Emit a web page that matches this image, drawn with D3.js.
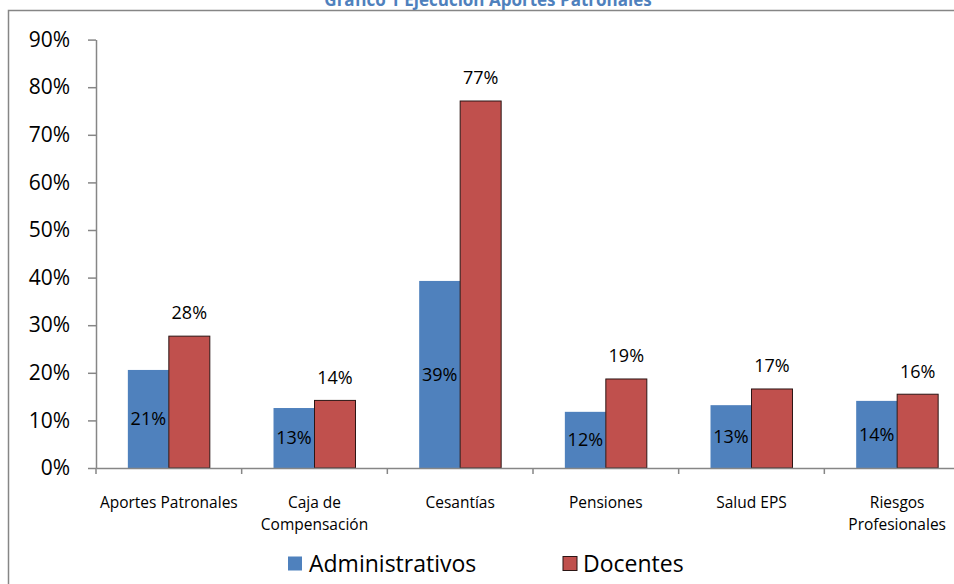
<!DOCTYPE html>
<html>
<head>
<meta charset="utf-8">
<script src="https://cdn.jsdelivr.net/npm/d3@7"></script>
<style>
  html, body { margin: 0; padding: 0; background: #fff; }
  svg { display: block; font-family: "Open Sans", sans-serif; }
</style>
</head>
<body>
<svg id="chart" width="954" height="584"></svg>
<script>
const title = "Gráfico 1 Ejecución Aportes Patronales";
const categories = ["Aportes Patronales", "Caja de Compensación", "Cesantías", "Pensiones", "Salud EPS", "Riesgos Profesionales"];
const seriesNames = ["Administrativos", "Docentes"];
const administrativos = [0.206, 0.126, 0.393, 0.118, 0.132, 0.141];
const docentes = [0.277, 0.142, 0.771, 0.187, 0.166, 0.155];
const yTicks = [0, 0.1, 0.2, 0.3, 0.4, 0.5, 0.6, 0.7, 0.8, 0.9];
const colors = ["#4F81BD", "#C0504D"];

const svg = d3.select("#chart");
const axisColor = "#868686";

// frame
svg.append("rect")
  .attr("x", 8.5).attr("y", 10.5)
  .attr("width", 1000).attr("height", 1000)
  .attr("fill", "none").attr("stroke", axisColor).attr("stroke-width", 1.5);

// title
svg.append("text")
  .attr("x", 488).attr("y", 6)
  .attr("text-anchor", "middle")
  .attr("fill", "#4F81BD")
  .attr("font-weight", "bold")
  .attr("font-size", 17)
  .text(title);

const x0 = d3.scaleBand().domain(categories).range([96, 970]).paddingInner(0).paddingOuter(0);
const x1 = d3.scaleBand().domain(seriesNames).range([0, x0.bandwidth()]).paddingInner(0).paddingOuter(0.777);
const y = d3.scaleLinear().domain([0, 0.9]).range([468, 39.6]);

const values = [administrativos, docentes];

// y axis
const yAxis = d3.axisLeft(y).tickValues(yTicks).tickFormat(d3.format(".0%"))
  .tickSize(8).tickSizeOuter(0).tickPadding(18);
const gy = svg.append("g").attr("transform", "translate(96,0)").call(yAxis);
gy.select(".domain").attr("stroke", axisColor).attr("stroke-width", 1.5);
gy.selectAll(".tick line").attr("stroke", axisColor).attr("stroke-width", 1.5);
gy.selectAll(".tick text").attr("font-size", 21).attr("fill", "#000").attr("font-family", "Open Sans, sans-serif");

// bars
const groups = svg.append("g").selectAll("g").data(categories).join("g")
  .attr("transform", d => `translate(${x0(d)},0)`);

seriesNames.forEach((s, si) => {
  groups.append("rect")
    .attr("x", x1(s))
    .attr("y", (d, i) => y(values[si][i]))
    .attr("width", x1.bandwidth())
    .attr("height", (d, i) => y(0) - y(values[si][i]))
    .attr("fill", colors[si])
    .attr("stroke", si === 1 ? "#2b1514" : "none")
    .attr("stroke-width", si === 1 ? 1 : 0);
});

// data labels
groups.append("text")
  .attr("x", x1("Administrativos") + x1.bandwidth() / 2)
  .attr("y", (d, i) => (y(administrativos[i]) + y(0)) / 2)
  .attr("dy", "0.35em")
  .attr("text-anchor", "middle")
  .attr("font-size", 18)
  .attr("fill", "#000")
  .text((d, i) => d3.format(".0%")(administrativos[i]));

groups.append("text")
  .attr("x", x1("Docentes") + x1.bandwidth() / 2)
  .attr("y", (d, i) => y(docentes[i]) - 23)
  .attr("dy", "0.35em")
  .attr("text-anchor", "middle")
  .attr("font-size", 18)
  .attr("fill", "#000")
  .text((d, i) => d3.format(".0%")(docentes[i]));

// x axis line
const xAxis = d3.axisBottom(x0).tickSize(0).tickFormat("");
const gx = svg.append("g").attr("transform", "translate(0,468)").call(xAxis);
gx.select(".domain").attr("stroke", axisColor).attr("stroke-width", 1.5);
// boundary ticks
const bounds = categories.map(c => x0(c)).concat([x0.range()[1]]);
gx.selectAll("line.bound").data(bounds).join("line")
  .attr("class", "bound")
  .attr("x1", d => d).attr("x2", d => d)
  .attr("y1", 0).attr("y2", 6)
  .attr("stroke", axisColor).attr("stroke-width", 1.5);

// category labels with wrapping
const catLabels = svg.append("g").selectAll("text").data(categories).join("text")
  .attr("x", d => x0(d) + x0.bandwidth() / 2)
  .attr("y", 503)
  .attr("text-anchor", "middle")
  .attr("font-size", 15.5)
  .attr("fill", "#000");
catLabels.each(function(d) {
  const t = d3.select(this);
  const words = d.split(" ");
  let lines = [];
  let line = [];
  words.forEach(w => {
    const test = line.concat([w]).join(" ");
    t.text(test);
    if (line.length && t.node().getComputedTextLength() > 145) {
      lines.push(line.join(" "));
      line = [w];
    } else {
      line.push(w);
    }
  });
  lines.push(line.join(" "));
  t.text(null);
  lines.forEach((l, i) => {
    t.append("tspan")
      .attr("x", x0(d) + x0.bandwidth() / 2)
      .attr("dy", i === 0 ? "0.35em" : 22)
      .text(l);
  });
});

// legend
const legendItems = [{ x: 288, tx: 309 }, { x: 563, tx: 583 }];
const legend = svg.append("g").selectAll("g").data(seriesNames).join("g");
legend.append("rect")
  .attr("x", (d, i) => legendItems[i].x)
  .attr("y", 556.5)
  .attr("width", 14).attr("height", 14)
  .attr("fill", (d, i) => colors[i])
  .attr("stroke", (d, i) => i === 1 ? "#2b1514" : "none")
  .attr("stroke-width", 1);
legend.append("text")
  .attr("x", (d, i) => legendItems[i].tx)
  .attr("y", 563.5)
  .attr("dy", "0.35em")
  .attr("font-size", 23)
  .attr("fill", "#000")
  .text(d => d);
</script>
</body>
</html>
